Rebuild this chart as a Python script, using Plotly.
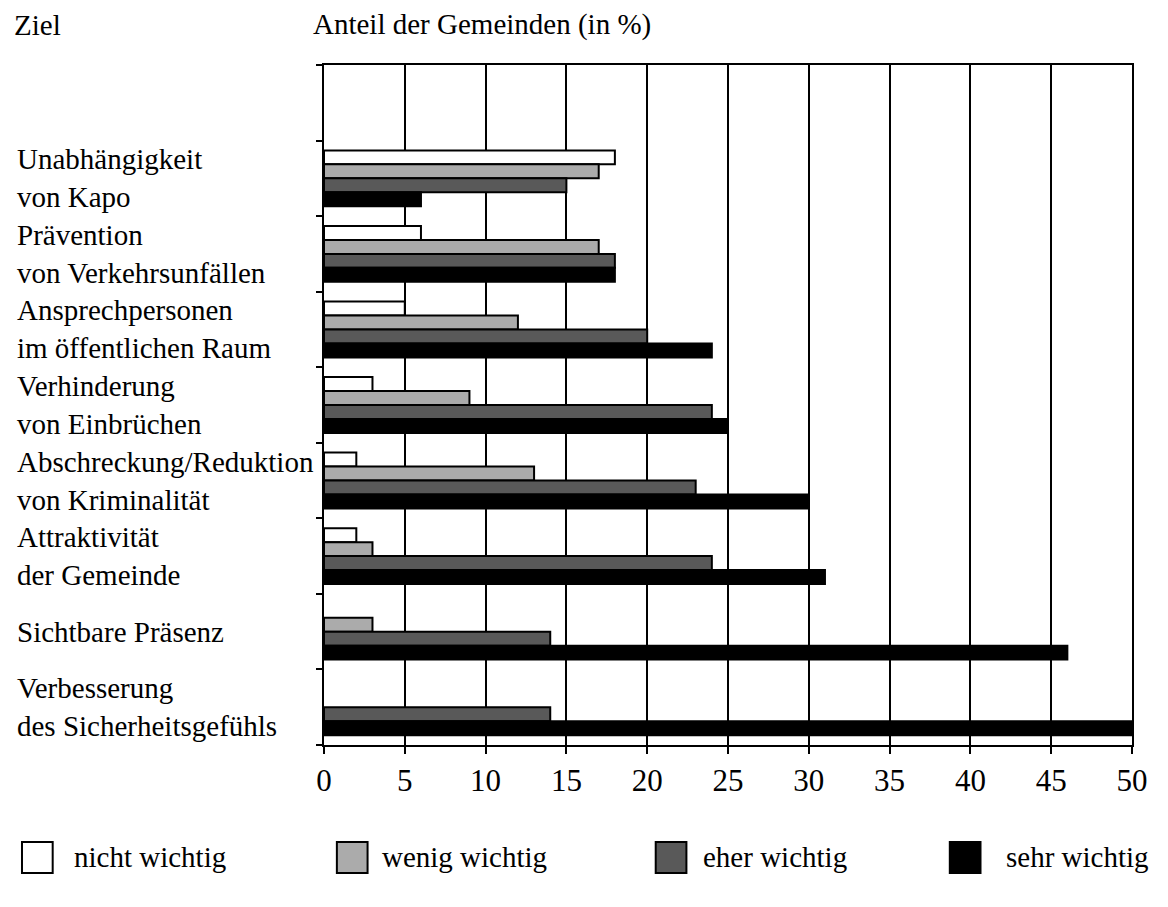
import plotly.graph_objects as go

# ---- data ----
categories = [
    "",  # empty top slot
    "Unabhängigkeit<br>von Kapo",
    "Prävention<br>von Verkehrsunfällen",
    "Ansprechpersonen<br>im öffentlichen Raum",
    "Verhinderung<br>von Einbrüchen",
    "Abschreckung/Reduktion<br>von Kriminalität",
    "Attraktivität<br>der Gemeinde",
    "Sichtbare Präsenz",
    "Verbesserung<br>des Sicherheitsgefühls",
]
series_names = ["nicht wichtig", "wenig wichtig", "eher wichtig", "sehr wichtig"]
nicht_wichtig = [None, 18, 6, 5, 3, 2, 2, 0, 0]
wenig_wichtig = [None, 17, 17, 12, 9, 13, 3, 3, 0]
eher_wichtig = [None, 15, 18, 20, 24, 23, 24, 14, 14]
sehr_wichtig = [None, 6, 18, 24, 25, 30, 31, 46, 50]
x_ticks = [0, 5, 10, 15, 20, 25, 30, 35, 40, 45, 50]
header_left = "Ziel"
header_axis = "Anteil der Gemeinden (in %)"

colors = ["#FFFFFF", "#ABABAB", "#595959", "#000000"]
values = [nicht_wichtig, wenig_wichtig, eher_wichtig, sehr_wichtig]

FONT = "Liberation Serif"
OFF = 8  # default page body margin
# target page-pixel geometry of the plot area
P_LEFT, P_RIGHT, P_TOP, P_BOTTOM = 324, 1140, 65, 745
W, H = 1152, 880
L = P_LEFT - OFF
R = W - (P_RIGHT - OFF)
T = P_TOP - OFF
B = H - (P_BOTTOM - OFF)
PW, PH = W - L - R, H - T - B


def px(xp):
    return (xp - P_LEFT) / PW


def py(yp):
    return (P_BOTTOM - yp) / PH


positions = list(range(len(categories)))

fig = go.Figure()
for name, vals, col in zip(series_names, values, colors):
    fig.add_trace(go.Bar(
        y=positions, x=vals, name=name, orientation="h",
        marker=dict(color=col,
                    line=dict(color="black",
                              width=[0 if (v is None or v == 0) else 2 for v in vals])),
        showlegend=False,
    ))

annotations = []
for i, lab in enumerate(categories):
    if not lab:
        continue
    annotations.append(dict(
        x=px(12), xref="paper", y=i, yref="y", text=lab, showarrow=False,
        xanchor="left", yanchor="middle", align="left",
        font=dict(family=FONT, size=29, color="black"),
    ))

annotations.append(dict(x=px(10), xref="paper", y=py(25), yref="paper",
                        text=header_left, showarrow=False, xanchor="left",
                        yanchor="middle", borderpad=0,
                        font=dict(family=FONT, size=29, color="black")))
annotations.append(dict(x=px(312), xref="paper", y=py(25), yref="paper",
                        text=header_axis, showarrow=False, xanchor="left",
                        yanchor="middle", borderpad=0,
                        font=dict(family=FONT, size=29, color="black")))

# custom legend
legend_sq_left = [19, 337, 659, 956]
legend_text_left = [69, 381, 705, 1011]
shapes = []
for name, col, sx, tx in zip(series_names, colors, legend_sq_left, legend_text_left):
    shapes.append(dict(type="rect", xref="paper", yref="paper",
                       x0=px(sx), x1=px(sx + 31), y0=py(873), y1=py(842),
                       fillcolor=col, line=dict(color="black", width=2)))
    annotations.append(dict(x=px(tx), xref="paper", y=py(857), yref="paper",
                            text=name, showarrow=False, xanchor="left",
                            yanchor="middle", font=dict(family=FONT, size=29, color="black")))

fig.update_layout(
    width=W, height=H,
    margin=dict(l=L, r=R, t=T, b=B, pad=0),
    paper_bgcolor="white", plot_bgcolor="white",
    barmode="group", bargap=0.26, bargroupgap=0,
    font=dict(family=FONT, color="black"),
    annotations=annotations, shapes=shapes,
    xaxis=dict(range=[0, 50], tickvals=x_ticks, ticks="outside", ticklen=7,
               tickwidth=2, tickcolor="black", showline=True, linecolor="black",
               linewidth=2, mirror=True, showgrid=True, gridcolor="black",
               gridwidth=2, zeroline=False,
               tickfont=dict(family=FONT, size=31, color="black")),
    yaxis=dict(range=[len(categories) - 0.5, -0.5],
               tickvals=[i - 0.5 for i in range(len(categories) + 1)],
               ticktext=[""] * (len(categories) + 1), ticks="outside", ticklen=6,
               tickwidth=2, tickcolor="black", showline=True, linecolor="black",
               linewidth=2, mirror=True, showgrid=False, zeroline=False),
)

fig.write_html("out.html")
